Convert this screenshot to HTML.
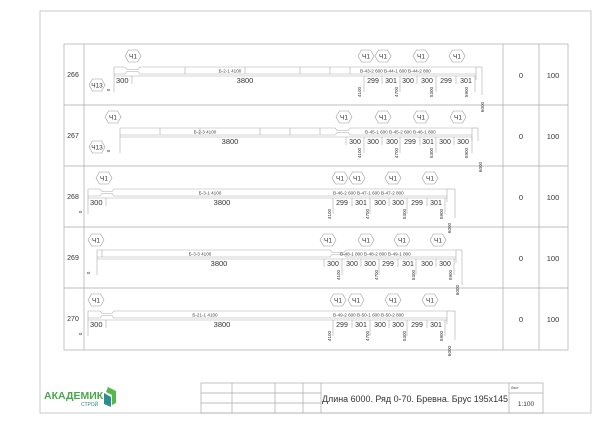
<!DOCTYPE html>
<html><head><meta charset="utf-8"><style>
html,body{margin:0;padding:0;background:#fff;width:600px;height:424px;overflow:hidden}
svg{display:block}
text{font-family:"Liberation Sans",sans-serif;fill:#333}
.s{font-size:4.6px;fill:#444}
.n{font-size:7.5px}
.d{font-size:4.6px;fill:#555}
.h{font-size:6.5px}
</style></head><body>
<svg width="600" height="424" viewBox="0 0 600 424" xmlns="http://www.w3.org/2000/svg">
<defs>
<g id="hx"><polygon points="-8,0 -4.5,-6 4.5,-6 8,0 4.5,6 -4.5,6" fill="#fff" stroke="#999" stroke-width="0.6"/><text x="0" y="2.3" text-anchor="middle" class="h">Ч1</text></g>
<g id="hx13"><polygon points="-8,0 -4.5,-6 4.5,-6 8,0 4.5,6 -4.5,6" fill="#fff" stroke="#999" stroke-width="0.6"/><text x="0" y="2.3" text-anchor="middle" class="h">Ч13</text></g>
</defs>
<rect x="40" y="11" width="551" height="402" fill="none" stroke="#bbb" stroke-width="0.8"/>
<g stroke="#aaa" stroke-width="0.7" fill="none">
<rect x="64" y="44" width="504" height="306"/>
<line x1="84" y1="44" x2="84" y2="350"/>
<line x1="503" y1="44" x2="503" y2="350"/>
<line x1="539" y1="44" x2="539" y2="350"/>
<line x1="64" y1="105" x2="568" y2="105"/>
<line x1="64" y1="166" x2="568" y2="166"/>
<line x1="64" y1="227" x2="568" y2="227"/>
<line x1="64" y1="288" x2="568" y2="288"/>
</g>
<g font-size="7">
<text x="73" y="77" text-anchor="middle">266</text>
<text x="73" y="138" text-anchor="middle">267</text>
<text x="73" y="199" text-anchor="middle">268</text>
<text x="73" y="260" text-anchor="middle">269</text>
<text x="73" y="321" text-anchor="middle">270</text>
</g>
<g font-size="7.5" text-anchor="middle">
<text x="521" y="78">0</text><text x="553" y="78">100</text>
<text x="521" y="139">0</text><text x="553" y="139">100</text>
<text x="521" y="200">0</text><text x="553" y="200">100</text>
<text x="521" y="261">0</text><text x="553" y="261">100</text>
<text x="521" y="322">0</text><text x="553" y="322">100</text>
</g>

<g>
<g stroke="#aaa" stroke-width="0.6" fill="none">
<line x1="114" y1="67" x2="114" y2="92"/>
<path d="M114 67 H125 L127 69.5 H138 L140 67 H476 M114 74 H125 L127 71.5 H138 L140 74 H476"/>
<line x1="476" y1="67" x2="476" y2="80"/><line x1="482" y1="67" x2="482" y2="95"/><line x1="476" y1="67" x2="482" y2="67"/>
<path d="M185 67v7M245 67v7M300 67v7M330 67v7M350 67v7"/>
<line x1="114" y1="76" x2="476" y2="76"/>
<path d="M132 76v8M364 76v16M382 76v8M400 76v16M417 76v8M436 76v16M456 76v8M475 76v16"/>
</g>
<use href="#hx" x="133" y="56"/><use href="#hx" x="366" y="56"/><use href="#hx" x="383" y="56"/><use href="#hx" x="421" y="56"/><use href="#hx" x="457" y="56"/>
<use href="#hx13" x="97" y="85"/>
<text x="230" y="72.5" class="s" text-anchor="middle">Б-2-1   4100</text>
<text x="360" y="72.5" class="s">В-43-2  600  В-44-1  600  В-44-2  800</text>
<text x="116" y="83" font-size="7.5">300</text>
<text x="245" y="83" font-size="7.5" text-anchor="middle">3800</text>
<g font-size="7" text-anchor="middle"><text x="373" y="83">299</text><text x="391" y="83">301</text><text x="408" y="83">300</text><text x="427" y="83">300</text><text x="446" y="83">299</text><text x="466" y="83">301</text></g>
<g class="d" text-anchor="middle"><text transform="translate(361,92) rotate(-90)">4100</text><text transform="translate(398,92) rotate(-90)">4700</text><text transform="translate(433,92) rotate(-90)">5300</text><text transform="translate(468,92) rotate(-90)">5900</text><text transform="translate(484,107) rotate(-90)">6000</text><text transform="translate(110,90) rotate(-90)">0</text></g>
</g>

<g>
<g stroke="#aaa" stroke-width="0.6" fill="none">
<line x1="120" y1="128" x2="120" y2="153"/>
<path d="M120 128 H335 L337 130.5 H348 L350 128 H472 M120 135 H335 L337 132.5 H348 L350 135 H472"/>
<line x1="472" y1="128" x2="472" y2="141"/><line x1="478" y1="128" x2="478" y2="141"/><line x1="472" y1="128" x2="478" y2="128"/>
<path d="M160 128v7M200 128v7M260 128v7M290 128v7M320 128v7"/>
<line x1="120" y1="137" x2="472" y2="137"/>
<path d="M346 137v8M364 137v16M382 137v8M400 137v16M420 137v8M436 137v16M454 137v8M472 137v16"/>
</g>
<use href="#hx" x="113" y="117"/><use href="#hx" x="344" y="117"/><use href="#hx" x="383" y="117"/><use href="#hx" x="421" y="117"/><use href="#hx" x="458" y="117"/>
<use href="#hx13" x="97" y="147"/>
<text x="205" y="133.5" class="s" text-anchor="middle">Б-2-3   4100</text>
<text x="365" y="133.5" class="s">В-45-1  600  В-45-2  600  В-46-1  800</text>
<text x="230" y="144" font-size="7.5" text-anchor="middle">3800</text>
<g font-size="7" text-anchor="middle"><text x="355" y="144">300</text><text x="373" y="144">300</text><text x="392" y="144">300</text><text x="410" y="144">299</text><text x="428" y="144">301</text><text x="445" y="144">300</text><text x="463" y="144">300</text></g>
<g class="d" text-anchor="middle"><text transform="translate(361,153) rotate(-90)">4100</text><text transform="translate(398,153) rotate(-90)">4700</text><text transform="translate(433,153) rotate(-90)">5300</text><text transform="translate(468,153) rotate(-90)">5900</text><text transform="translate(482,167) rotate(-90)">6000</text><text transform="translate(110,151) rotate(-90)">0</text></g>
</g>

<g>
<g stroke="#aaa" stroke-width="0.6" fill="none">
<line x1="88" y1="189" x2="88" y2="214"/>
<path d="M88 189 H100 L102 191.5 H112 L114 189 H447 M88 196 H100 L102 193.5 H112 L114 196 H447"/>
<line x1="447" y1="189" x2="447" y2="202"/><line x1="455" y1="189" x2="455" y2="218"/><line x1="447" y1="189" x2="455" y2="189"/>
<line x1="88" y1="198" x2="447" y2="198"/>
<path d="M106 198v8M333 198v16M352 198v8M370 198v16M389 198v8M407 198v16M427 198v8M445 198v16"/>
</g>
<use href="#hx" x="104" y="178"/><use href="#hx" x="340" y="178"/><use href="#hx" x="357" y="178"/><use href="#hx" x="393" y="178"/><use href="#hx" x="430" y="178"/>
<text x="210" y="194.5" class="s" text-anchor="middle">Б-3-1   4100</text>
<text x="333" y="194.5" class="s">В-46-2  600  В-47-1  600  В-47-2  800</text>
<text x="90" y="205" font-size="7.5">300</text>
<text x="222" y="205" font-size="7.5" text-anchor="middle">3800</text>
<g font-size="7" text-anchor="middle"><text x="342" y="205">299</text><text x="361" y="205">301</text><text x="380" y="205">300</text><text x="398" y="205">300</text><text x="417" y="205">299</text><text x="436" y="205">301</text></g>
<g class="d" text-anchor="middle"><text transform="translate(331,214) rotate(-90)">4100</text><text transform="translate(369,214) rotate(-90)">4700</text><text transform="translate(406,214) rotate(-90)">5300</text><text transform="translate(443,214) rotate(-90)">5900</text><text transform="translate(451,228) rotate(-90)">6000</text><text transform="translate(82,212) rotate(-90)">0</text></g>
</g>

<g>
<g stroke="#aaa" stroke-width="0.6" fill="none">
<line x1="97" y1="250" x2="97" y2="275"/>
<path d="M97 250 H330 L332 252.5 H344 L346 250 H456 M97 257 H102 V250 M102 257 H330 L332 254.5 H344 L346 257 H456"/>
<line x1="456" y1="250" x2="456" y2="263"/><line x1="462" y1="250" x2="462" y2="285"/><line x1="456" y1="250" x2="462" y2="250"/>
<line x1="97" y1="259" x2="456" y2="259"/>
<path d="M324 259v8M342 259v16M361 259v8M379 259v16M398 259v8M416 259v16M436 259v8M454 259v16"/>
</g>
<use href="#hx" x="96" y="240"/><use href="#hx" x="328" y="240"/><use href="#hx" x="366" y="240"/><use href="#hx" x="402" y="240"/><use href="#hx" x="438" y="240"/>
<text x="200" y="255.5" class="s" text-anchor="middle">Б-3-3   4100</text>
<text x="340" y="255.5" class="s">В-48-1  800  В-48-2  800  В-49-1  800</text>
<text x="219" y="266" font-size="7.5" text-anchor="middle">3800</text>
<g font-size="7" text-anchor="middle"><text x="333" y="266">300</text><text x="352" y="266">300</text><text x="370" y="266">300</text><text x="388" y="266">299</text><text x="408" y="266">301</text><text x="427" y="266">300</text><text x="445" y="266">300</text></g>
<g class="d" text-anchor="middle"><text transform="translate(340,275) rotate(-90)">4100</text><text transform="translate(378,275) rotate(-90)">4700</text><text transform="translate(415,275) rotate(-90)">5300</text><text transform="translate(452,275) rotate(-90)">5900</text><text transform="translate(459,290) rotate(-90)">6000</text><text transform="translate(90,273) rotate(-90)">0</text></g>
</g>

<g>
<g stroke="#aaa" stroke-width="0.6" fill="none">
<line x1="88" y1="311" x2="88" y2="336"/>
<path d="M88 311 H100 L102 313.5 H112 L114 311 H447 M88 318 H100 L102 315.5 H112 L114 318 H447"/>
<line x1="447" y1="311" x2="447" y2="324"/><line x1="455" y1="311" x2="455" y2="340"/><line x1="447" y1="311" x2="455" y2="311"/>
<line x1="88" y1="320" x2="447" y2="320"/>
<path d="M106 320v8M333 320v16M352 320v8M370 320v16M389 320v8M407 320v16M427 320v8M445 320v16"/>
</g>
<use href="#hx" x="96" y="300"/><use href="#hx" x="338" y="300"/><use href="#hx" x="356" y="300"/><use href="#hx" x="393" y="300"/><use href="#hx" x="430" y="300"/>
<text x="205" y="316.5" class="s" text-anchor="middle">Б-21-1   4100</text>
<text x="333" y="316.5" class="s">В-49-2  600  В-50-1  600  В-50-2  800</text>
<text x="90" y="327" font-size="7.5">300</text>
<text x="222" y="327" font-size="7.5" text-anchor="middle">3800</text>
<g font-size="7" text-anchor="middle"><text x="342" y="327">299</text><text x="361" y="327">301</text><text x="380" y="327">300</text><text x="398" y="327">300</text><text x="417" y="327">299</text><text x="436" y="327">301</text></g>
<g class="d" text-anchor="middle"><text transform="translate(331,336) rotate(-90)">4100</text><text transform="translate(369,336) rotate(-90)">4700</text><text transform="translate(406,336) rotate(-90)">5300</text><text transform="translate(443,336) rotate(-90)">5900</text><text transform="translate(451,351) rotate(-90)">6000</text><text transform="translate(82,334) rotate(-90)">0</text></g>
</g>

<g stroke="#aaa" stroke-width="0.7" fill="none">
<rect x="201" y="383" width="342" height="30"/>
<path d="M232 383v30M275 383v30M303 383v30M321 383v30M509 383v30"/>
<path d="M201 393h120M201 403h120M509 393h34"/>
</g>
<text x="322" y="402" font-size="9.2" textLength="186" lengthAdjust="spacingAndGlyphs">Длина 6000. Ряд 0-70. Бревна. Брус 195x145</text>
<text x="511" y="389" font-size="3.5">Лист</text>
<text x="526" y="406" font-size="6.5" text-anchor="middle">1:100</text>

<text x="44" y="399" font-size="10.5" font-weight="bold" style="fill:#4aa84a">АКАДЕМИК</text>
<text x="81" y="406" font-size="5" style="fill:#2e8a8a">СТРОЙ</text>
<path d="M104 393 L104 404 L111 407 L111 397 Z" fill="#2a8f8a"/>
<path d="M108 387 L116 391 L116 403 L112 405 L112 395 L106 392 Z" fill="#56b84a"/>
</svg>
</body></html>
